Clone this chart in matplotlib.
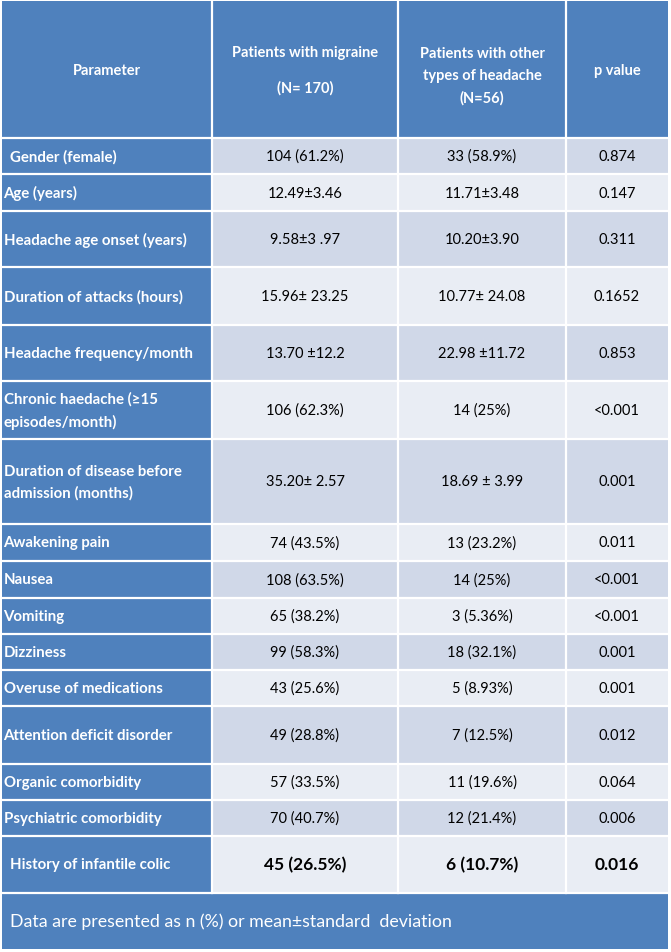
import matplotlib

matplotlib.use('Agg')
import matplotlib.pyplot as plt
from matplotlib.patches import Rectangle

plt.rcParams['font.family'] = ['Lato', 'DejaVu Sans']

header = [["Parameter"],
          ["Patients with migraine", "(N= 170)"],
          ["Patients with other", "types of headache", "(N=56)"],
          ["p value"]]

parameters = ["Gender (female)", "Age (years)", "Headache age onset (years)",
              "Duration of attacks (hours)", "Headache frequency/month",
              "Chronic haedache (\u226515\nepisodes/month)",
              "Duration of disease before\nadmission (months)",
              "Awakening pain", "Nausea", "Vomiting", "Dizziness",
              "Overuse of medications", "Attention deficit disorder",
              "Organic comorbidity", "Psychiatric comorbidity",
              "History of infantile colic"]

migraine = ["104 (61.2%)", "12.49\u00b13.46", "9.58\u00b13 .97", "15.96\u00b1 23.25",
            "13.70 \u00b112.2", "106 (62.3%)", "35.20\u00b1 2.57", "74 (43.5%)",
            "108 (63.5%)", "65 (38.2%)", "99 (58.3%)", "43 (25.6%)",
            "49 (28.8%)", "57 (33.5%)", "70 (40.7%)", "45 (26.5%)"]

other = ["33 (58.9%)", "11.71\u00b13.48", "10.20\u00b13.90", "10.77\u00b1 24.08",
         "22.98 \u00b111.72", "14 (25%)", "18.69 \u00b1 3.99", "13 (23.2%)",
         "14 (25%)", "3 (5.36%)", "18 (32.1%)", "5 (8.93%)",
         "7 (12.5%)", "11 (19.6%)", "12 (21.4%)", "6 (10.7%)"]

p_values = ["0.874", "0.147", "0.311", "0.1652", "0.853", "<0.001", "0.001",
            "0.011", "<0.001", "<0.001", "0.001", "0.001", "0.012", "0.064",
            "0.006", "0.016"]

footnote = "Data are presented as n (%) or mean\u00b1standard  deviation"

# layout in pixels
W, H = 671, 953
col_edges = [2, 212, 398, 566, 668]
row_edges = [2, 139, 175, 212, 268, 326, 382, 440, 525, 562, 599, 635, 671,
             707, 765, 801, 837, 894, 950]
# header line positions (pixels from top) for 1, 2 and 3 line headers
header_lines_y = {1: [70], 2: [52, 87], 3: [53, 75, 97]}

blue = '#4F81BD'
dark_cell = '#D0D8E8'
light_cell = '#E9EDF4'

fig = plt.figure(figsize=(W / 100, H / 100), dpi=100)
ax = fig.add_axes([0, 0, 1, 1])
ax.set_xlim(0, W)
ax.set_ylim(H, 0)
ax.axis('off')


def cell(x0, x1, y0, y1, color):
    ax.add_patch(Rectangle((x0, y0), x1 - x0, y1 - y0, facecolor=color,
                           edgecolor='none'))


# header
cell(col_edges[0], col_edges[-1], row_edges[0], row_edges[1], blue)
for i, lines in enumerate(header):
    xc = (col_edges[i] + col_edges[i + 1]) / 2
    for txt, y in zip(lines, header_lines_y[len(lines)]):
        ax.text(xc, y + 1, txt, ha='center', va='center', color='white',
                fontsize=10.5, fontweight='bold')

# body rows
for r, name in enumerate(parameters):
    y0, y1 = row_edges[r + 1], row_edges[r + 2]
    yc = (y0 + y1) / 2
    fill = dark_cell if r % 2 == 0 else light_cell
    cell(col_edges[0], col_edges[1], y0, y1, blue)
    cell(col_edges[1], col_edges[-1], y0, y1, fill)
    last = r == len(parameters) - 1
    xpad = 8 if r in (0, len(parameters) - 1) else 1.5
    ax.text(col_edges[0] + xpad, yc, name, ha='left', va='center', color='white',
            fontsize=10.8, fontweight='bold', linespacing=1.65)
    for c, vals in enumerate([migraine, other, p_values]):
        xc = (col_edges[c + 1] + col_edges[c + 2]) / 2
        ax.text(xc, yc, vals[r], ha='center', va='center', color='black',
                fontsize=12.5 if last else 10.5,
                fontweight='bold' if last else 'normal')

# footer
cell(col_edges[0], col_edges[-1], row_edges[-2], row_edges[-1], blue)
ax.text(col_edges[0] + 8, (row_edges[-2] + row_edges[-1]) / 2, footnote,
        ha='left', va='center', color='white', fontsize=12.8)

# white grid lines
for y in row_edges[1:-1]:
    ax.plot([col_edges[0], col_edges[-1]], [y, y], color='white', lw=1.6)
for x in col_edges[1:-1]:
    ax.plot([x, x], [row_edges[0], row_edges[-2]], color='white', lw=1.6)

fig.savefig('out.png', dpi=100, facecolor='white')
